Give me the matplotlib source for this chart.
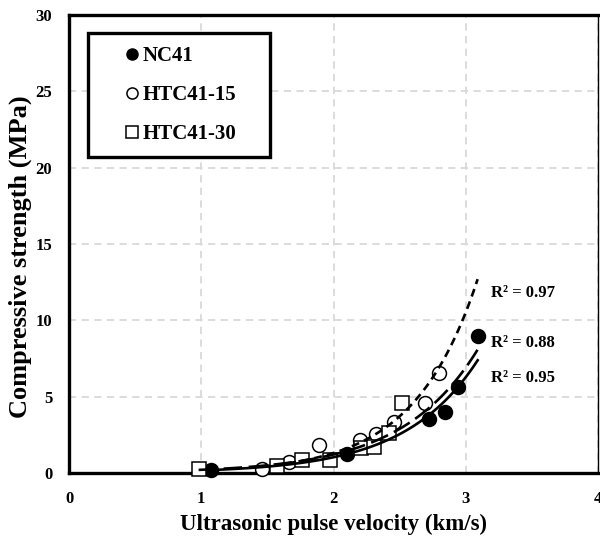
import numpy as np
import matplotlib
matplotlib.use("Agg")
import matplotlib.pyplot as plt
from matplotlib.lines import Line2D

plt.rcParams['font.family'] = ['Liberation Serif', 'DejaVu Serif']
plt.rcParams['font.weight'] = 'bold'

# Data
nc41_x = [1.07, 2.10, 2.72, 2.84, 2.94, 3.09]
nc41_y = [0.20, 1.22, 3.55, 4.00, 5.65, 9.00]

htc15_x = [1.46, 1.66, 1.89, 2.20, 2.32, 2.46, 2.69, 2.80]
htc15_y = [0.26, 0.72, 1.83, 2.18, 2.55, 3.34, 4.58, 6.55]

htc30_x = [0.98, 1.57, 1.76, 1.97, 2.21, 2.31, 2.42, 2.52]
htc30_y = [0.26, 0.46, 0.85, 0.88, 1.62, 1.70, 2.60, 4.58]

series_labels = ['NC41', 'HTC41-15', 'HTC41-30']
r2_labels = ['R² = 0.95', 'R² = 0.97', 'R² = 0.88']
r2_pos_y = [6.2, 11.8, 8.5]
trend_end_x = 3.09

fig = plt.figure(figsize=(6.0, 5.38), dpi=100)
ax = fig.add_axes([69/600, 1-473/538, 529/600, 458/538])

ax.set_xlim(0, 4)
ax.set_ylim(0, 30)
ax.set_xticks([0, 1, 2, 3, 4])
ax.set_yticks([0, 5, 10, 15, 20, 25, 30])
ax.grid(True, color='#d9d9d9', linestyle=(0, (4, 3)), linewidth=1.3)
ax.set_axisbelow(True)
ax.tick_params(length=0, labelsize=12, pad=13)
ax.tick_params(axis='y', pad=12)
for s in ['left', 'bottom', 'top']:
    ax.spines[s].set_linewidth(2.4)
ax.spines['right'].set_linewidth(1.0)

series = [
    (nc41_x, nc41_y, dict(marker='o', mfc='black', mec='black'), None),
    (htc15_x, htc15_y, dict(marker='o', mfc='white', mec='black'), (0, (3, 2))),
    (htc30_x, htc30_y, dict(marker='s', mfc='white', mec='black'), (0, (7, 2.5))),
]

for (xs, ys, mk, dash), r2, ry in zip(series, r2_labels, r2_pos_y):
    xs = np.array(xs); ys = np.array(ys)
    ax.plot(xs, ys, linestyle='none', markersize=10, mew=1.1, zorder=3, clip_on=False, **mk)
    b, lna = np.polyfit(xs, np.log(ys), 1)
    xf = np.linspace(xs.min(), trend_end_x, 100)
    yf = np.exp(lna) * np.exp(b * xf)
    ax.plot(xf, yf, color='black', lw=1.9, linestyle='-' if dash is None else dash, zorder=4)
    ax.text(3.19, ry, r2, fontsize=12, fontweight='bold', va='center', ha='left')

handles = [
    Line2D([], [], linestyle='none', marker='o', mfc='black', mec='black', markersize=8),
    Line2D([], [], linestyle='none', marker='o', mfc='white', mec='black', markersize=8, mew=1.1),
    Line2D([], [], linestyle='none', marker='s', mfc='white', mec='black', markersize=8, mew=1.1),
]
leg = ax.legend(handles, series_labels, loc='upper left',
                bbox_to_anchor=(0.036, 0.5, 0.344, 0.461), mode='expand',
                borderaxespad=0, frameon=True, fancybox=False, edgecolor='black',
                prop=dict(size=15, weight='bold'), handlelength=2.9, handletextpad=-0.95,
                labelspacing=0.9, borderpad=0.65)
leg.get_frame().set_linewidth(2.4)
leg.get_frame().set_alpha(1)
leg.set_zorder(5)

ax.set_xlabel('Ultrasonic pulse velocity (km/s)', fontsize=16.5, fontweight='bold')
ax.set_ylabel('Compressive strength (MPa)', fontsize=19, fontweight='bold')
ax.xaxis.set_label_coords(0.5, -(524 - 473) / 458, transform=ax.transAxes)
ax.xaxis.label.set_va('center')
ax.yaxis.set_label_coords((20 - 69) / 529, (473 - 257) / 458, transform=ax.transAxes)
ax.yaxis.label.set_va('center')

fig.savefig('out.png', dpi=100)
